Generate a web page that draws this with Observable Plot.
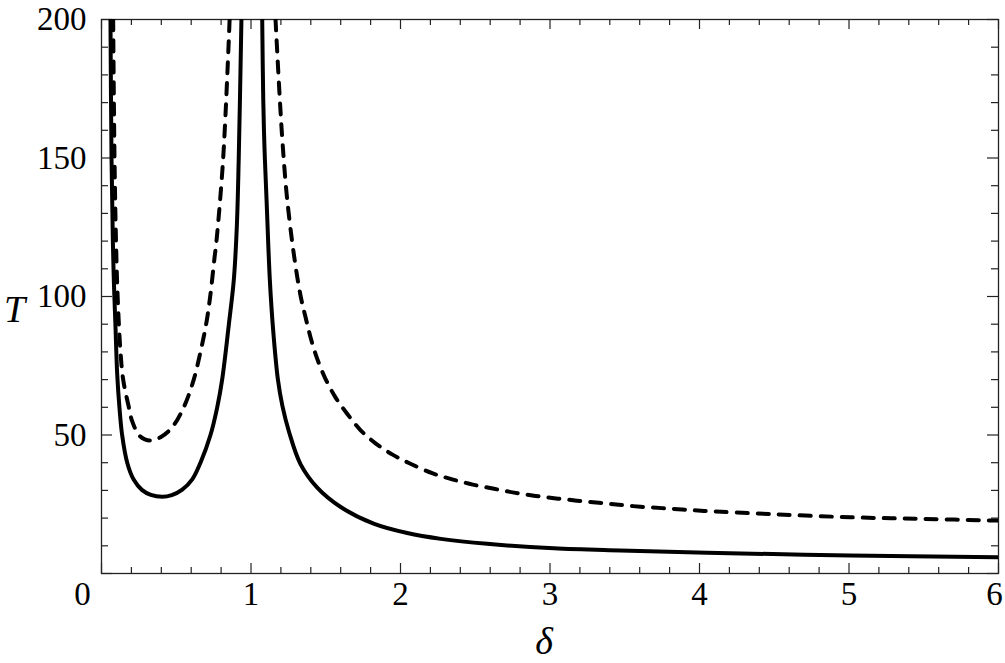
<!DOCTYPE html>
<html>
<head>
<meta charset="utf-8">
<script src="https://cdn.jsdelivr.net/npm/d3@7"></script>
<script src="https://cdn.jsdelivr.net/npm/@observablehq/plot@0.6"></script>
<style>
  html, body { margin: 0; padding: 0; background: #fff; }
  #chart svg { display: block; }
  #chart svg, #chart svg text, #chart svg g { font-family: "Liberation Serif", "DejaVu Serif", serif !important; }
</style>
</head>
<body>
<div id="chart"></div>
<script>
// ---- Data (δ, T) ----
const solidLeft = [
  [0.060, 200], [0.067, 150], [0.076, 120], [0.083, 105], [0.093, 90], [0.105, 72],
  [0.120, 60], [0.138, 50], [0.172, 40], [0.216, 33.8], [0.27, 30.2], [0.33, 28.4],
  [0.406, 27.7], [0.47, 28.3], [0.54, 30.3], [0.607, 34], [0.662, 40], [0.729, 50],
  [0.774, 60], [0.807, 70], [0.852, 90], [0.885, 106], [0.905, 125], [0.918, 150],
  [0.936, 200]
];
const solidRight = [
  [1.075, 200], [1.082, 171], [1.09, 154], [1.104, 135], [1.126, 106], [1.148, 88],
  [1.18, 70], [1.21, 60.5], [1.255, 51], [1.331, 39.5], [1.443, 31], [1.6, 24], [1.82, 18],
  [2.045, 14.6], [2.27, 12.5], [2.58, 10.7], [3.025, 9.1], [3.47, 8.3], [4.05, 7.5],
  [5.01, 6.5], [6.0, 5.9]
];
const dashedLeft = [
  [0.078, 200], [0.087, 150], [0.097, 120], [0.108, 100], [0.127, 80], [0.145, 70],
  [0.183, 60], [0.205, 55], [0.25, 50], [0.29, 48.4], [0.33, 48], [0.395, 49.2],
  [0.473, 52.8], [0.55, 60], [0.617, 70], [0.662, 80], [0.700, 90], [0.727, 100],
  [0.756, 114], [0.769, 120], [0.814, 150], [0.857, 200]
];
const dashedRight = [
  [1.164, 200], [1.193, 171], [1.213, 154], [1.242, 135], [1.29, 114],
  [1.331, 100.4], [1.365, 92.5], [1.398, 85.3], [1.443, 77.5], [1.498, 70.3],
  [1.565, 63.6], [1.643, 57.7], [1.732, 51.8], [1.833, 47.0], [1.944, 43.0],
  [2.056, 39.9], [2.212, 36.2], [2.346, 34.0], [2.484, 32.1], [2.625, 30.6],
  [2.76, 29.2], [2.903, 28.0], [3.04, 27.1], [3.18, 26.3], [3.327, 25.5],
  [3.46, 24.8], [3.605, 24.1], [3.75, 23.6], [3.884, 23.1], [4.03, 22.6],
  [4.5, 21.4], [5.01, 20.3], [5.5, 19.7], [6.0, 19.1]
];

// ---- Tick values ----
const xTickLabels = [0, 1, 2, 3, 4, 5, 6];
const yTickLabels = [50, 100, 150, 200];
const xMajor = [0, 1, 2, 3, 4, 5, 6];
const xMinor = d3.range(0, 6.001, 0.2).filter(v => Math.abs(v - Math.round(v)) > 1e-6);
const yMajor = [0, 50, 100, 150, 200];
const yMinor = d3.range(0, 200.001, 10).filter(v => v % 50 !== 0);

const W = 1005, H = 663;
const mL = 101, mR = 7, mT = 19, mB = 90;
const innerW = W - mL - mR, innerH = H - mT - mB;
const frameColor = "#222";
const serif = "Liberation Serif, DejaVu Serif, serif";
const smooth = d3.curveCatmullRom.alpha(0.5);
const xLabelOpts = { tickSize: 0, tickPadding: 8, fontSize: 33, fontFamily: serif, fontVariant: "normal", label: null, tickFormat: d => String(d) };

const chart = Plot.plot({
  width: W,
  height: H,
  marginLeft: mL,
  marginRight: mR,
  marginTop: mT,
  marginBottom: mB,
  style: { background: "#fff", color: "#000", fontFamily: serif },
  x: { domain: [0, 6] },
  y: { domain: [0, 200] },
  marks: [
    // inward ticks, all four sides
    Plot.tickX(xMajor, { x: d => d, insetTop: innerH - 10, stroke: frameColor, strokeWidth: 1.2 }),
    Plot.tickX(xMajor, { x: d => d, insetBottom: innerH - 10, stroke: frameColor, strokeWidth: 1.2 }),
    Plot.tickX(xMinor, { x: d => d, insetTop: innerH - 6, stroke: frameColor, strokeWidth: 1.2 }),
    Plot.tickX(xMinor, { x: d => d, insetBottom: innerH - 6, stroke: frameColor, strokeWidth: 1.2 }),
    Plot.tickY(yMajor, { y: d => d, insetRight: innerW - 11, stroke: frameColor, strokeWidth: 1.2 }),
    Plot.tickY(yMajor, { y: d => d, insetLeft: innerW - 11, stroke: frameColor, strokeWidth: 1.2 }),
    Plot.tickY(yMinor, { y: d => d, insetRight: innerW - 7, stroke: frameColor, strokeWidth: 1.2 }),
    Plot.tickY(yMinor, { y: d => d, insetLeft: innerW - 7, stroke: frameColor, strokeWidth: 1.2 }),
    Plot.frame({ stroke: frameColor, strokeWidth: 1.3 }),
    // tick labels
    Plot.axisX({ ...xLabelOpts, ticks: xTickLabels.filter(v => v !== 0 && v !== 6) }),
    Plot.axisX({ ...xLabelOpts, ticks: [0], dx: -19 }),
    Plot.axisX({ ...xLabelOpts, ticks: [6], dx: -4 }),
    Plot.axisY({ ticks: yTickLabels, tickSize: 0, tickPadding: 15, fontSize: 33, fontFamily: serif, fontVariant: "normal", label: null, tickFormat: d => String(d) }),
    // curves
    Plot.line(dashedLeft, { x: d => d[0], y: d => d[1], stroke: "#000", strokeWidth: 4, strokeDasharray: "11,10", curve: smooth, clip: true }),
    Plot.line(dashedRight, { x: d => d[0], y: d => d[1], stroke: "#000", strokeWidth: 4, strokeDasharray: "11,10", curve: smooth, clip: true }),
    Plot.line(solidLeft, { x: d => d[0], y: d => d[1], stroke: "#000", strokeWidth: 4, curve: smooth, clip: true }),
    Plot.line(solidRight, { x: d => d[0], y: d => d[1], stroke: "#000", strokeWidth: 4, curve: smooth, clip: true }),
    // axis titles
    Plot.text(["T"], { text: d => d, frameAnchor: "left", textAnchor: "middle", lineAnchor: "middle", dx: -87, dy: 13, fontSize: 38, fontFamily: serif, fontStyle: "italic", fill: "#000" }),
    Plot.text(["δ"], { text: d => d, frameAnchor: "bottom", textAnchor: "middle", lineAnchor: "middle", dx: -6, dy: 68, fontSize: 38, fontFamily: serif, fontStyle: "italic", fill: "#000" })
  ]
});
document.getElementById("chart").appendChild(chart);
</script>
</body>
</html>
